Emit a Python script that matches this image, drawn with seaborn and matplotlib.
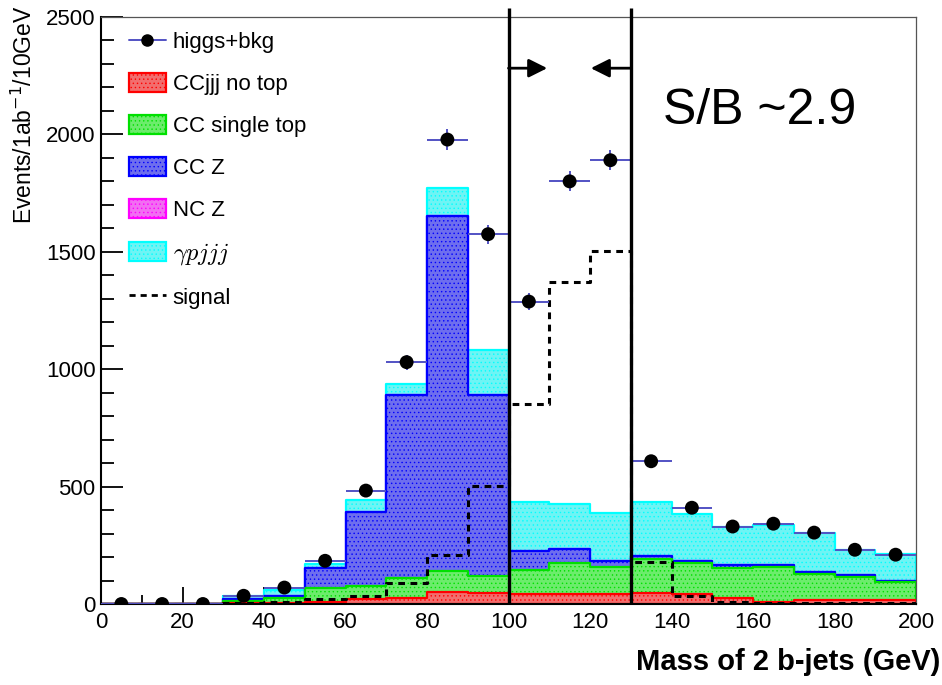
import numpy as np
import pandas as pd
import matplotlib.pyplot as plt
import seaborn as sns
from matplotlib.lines import Line2D
from matplotlib.ticker import MultipleLocator

# 10 GeV bins from 0 to 200
bin_edges = list(range(0, 210, 10))
bin_centers = [e + 5 for e in bin_edges[:-1]]

# events per bin
higgs_bkg = [0, 0, 0, 35, 70, 184, 483, 1030, 1978, 1575, 1288, 1800, 1890, 608, 410, 330, 342, 304, 231, 210]
cc_jjj_no_top = [0, 0, 0, 3, 5, 8, 20, 26, 51, 47, 43, 43, 43, 47, 43, 27, 10, 17, 17, 17]
cc_single_top = [0, 0, 0, 9, 21, 60, 57, 85, 90, 74, 100, 132, 115, 145, 132, 128, 148, 111, 100, 76]
cc_z = [0, 0, 0, 9, 10, 85, 316, 781, 1510, 769, 84, 59, 27, 13, 10, 9, 9, 8, 6, 7]
nc_z = [0, 0, 0, 0, 0, 0, 0, 0, 0, 0, 0, 0, 0, 0, 0, 0, 0, 0, 0, 0]
gamma_pjjj = [0, 0, 0, 13, 24, 17, 52, 47, 121, 193, 208, 193, 203, 229, 199, 164, 171, 167, 108, 113]
signal = [0, 0, 0, 3, 10, 21, 35, 90, 210, 502, 852, 1373, 1505, 177, 36, 10, 5, 5, 5, 5]

process_labels = ['CCjjj no top', 'CC single top', 'CC Z', 'NC Z', r'$\gamma pjjj$']
edge_colors = ['#ff0000', '#00e000', '#0000ff', '#ff00ff', '#00ffff']
fill_colors = ['#f26e6e', '#6cec6c', '#6e6eee', '#f26ef2', '#6ef4f4']

cut_window = [100, 130]
sb_text = 'S/B ~2.9'

sns.set_style('ticks')
plt.rcParams['font.family'] = ['Liberation Sans', 'DejaVu Sans']
plt.rcParams['hatch.color'] = 'white'
plt.rcParams['hatch.linewidth'] = 0.5
plt.rcParams['text.color'] = 'black'
plt.rcParams['xtick.color'] = 'black'
plt.rcParams['ytick.color'] = 'black'
plt.rcParams['axes.labelcolor'] = 'black'

fig = plt.figure(figsize=(9.42, 6.85), dpi=100)
ax = fig.add_axes([101 / 942, 1 - 604 / 685, 815 / 942, 587 / 685])

# stacked backgrounds, drawn like a ROOT THStack: tallest cumulative first
stack = np.cumsum([cc_jjj_no_top, cc_single_top, cc_z, nc_z, gamma_pjjj], axis=0)
layers = {}
for i in reversed(range(len(process_labels))):
    df = pd.DataFrame({'mass': bin_centers, 'events': stack[i]})
    sns.histplot(data=df, x='mass', weights='events', bins=bin_edges, element='step',
                 fill=True, color=edge_colors[i], ax=ax)
    coll = ax.collections[-1]
    coll.set_alpha(None)
    coll.set_facecolor(fill_colors[i])
    coll.set_edgecolor(edge_colors[i])
    coll.set_linewidth(1.6)
    coll.set_hatch('....')
    layers[process_labels[i]] = coll

# signal outline
sig_df = pd.DataFrame({'mass': bin_centers, 'events': signal})
sns.histplot(data=sig_df, x='mass', weights='events', bins=bin_edges, element='step', fill=False,
             color='black', linestyle=(0, (2.2, 1.8)), linewidth=2.2, ax=ax)

# higgs+bkg points with errors
ax.errorbar(bin_centers, higgs_bkg, xerr=np.diff(bin_edges) / 2, yerr=np.sqrt(higgs_bkg),
            fmt='none', ecolor='#5252c4', elinewidth=1.4, capsize=0, zorder=5)
sns.scatterplot(x=bin_centers, y=higgs_bkg, color='black', s=100, edgecolor='none', zorder=6, ax=ax)

# mass window cut
ax.vlines(cut_window, 0, 2538, colors='black', lw=2.4, clip_on=False, zorder=7)
ax.annotate('', xy=(cut_window[0] + 9.5, 2282), xytext=(cut_window[0], 2282),
            arrowprops=dict(arrowstyle='-|>', color='black', lw=2, mutation_scale=28,
                            shrinkA=0, shrinkB=0))
ax.annotate('', xy=(cut_window[1] - 9.8, 2282), xytext=(cut_window[1], 2282),
            arrowprops=dict(arrowstyle='-|>', color='black', lw=2, mutation_scale=28,
                            shrinkA=0, shrinkB=0))
ax.text(137.8, 2100, sb_text, fontsize=36, va='center', ha='left')

ax.set_xlim(0, 200)
ax.set_ylim(0, 2500)
ax.xaxis.set_major_locator(MultipleLocator(20))
ax.xaxis.set_minor_locator(MultipleLocator(10))
ax.yaxis.set_major_locator(MultipleLocator(500))
ax.yaxis.set_minor_locator(MultipleLocator(100))
ax.tick_params(axis='both', which='both', direction='in', labelsize=16, width=1.3,
               bottom=True, left=True, top=False, right=False)
ax.tick_params(axis='y', which='major', length=16, pad=4)
ax.tick_params(axis='y', which='minor', length=9)
ax.tick_params(axis='x', which='major', length=12, pad=6)
ax.tick_params(axis='x', which='minor', length=6.5)
for side in ['left', 'bottom']:
    ax.spines[side].set_linewidth(1.5)
    ax.spines[side].set_color('black')
for side in ['top', 'right']:
    ax.spines[side].set_linewidth(0.9)
    ax.spines[side].set_color('#555555')

ax.set_xlabel('')
ax.set_ylabel('Events/1ab$^{-1}$/10GeV', fontsize=16.5, loc='top')
ax.yaxis.set_label_coords(-0.079, 1.02)
fig.text(940 / 942, 1 - 662 / 685, 'Mass of 2 b-jets (GeV)', fontsize=21,
         fontweight='bold', va='center', ha='right')

# legend
handles = [Line2D([], [], color='#5252c4', lw=1.4, marker='o', markerfacecolor='black',
                  markeredgecolor='black', ms=8)]
handles += [layers[name] for name in process_labels]
handles += [Line2D([], [], color='black', ls=(0, (2.2, 1.8)), lw=2)]
labels = ['higgs+bkg'] + process_labels + ['signal']
leg = ax.legend(handles, labels, loc='upper left', bbox_to_anchor=(0.034, 0.9765),
                frameon=False, fontsize=16, handlelength=1.66, handleheight=0.98,
                handletextpad=0.32, labelspacing=0.88, borderpad=0, borderaxespad=0)
gtext = leg.get_texts()[5]
gtext.set_math_fontfamily('cm')
gtext.set_fontsize(17.5)

fig.savefig('out.png', dpi=100)
